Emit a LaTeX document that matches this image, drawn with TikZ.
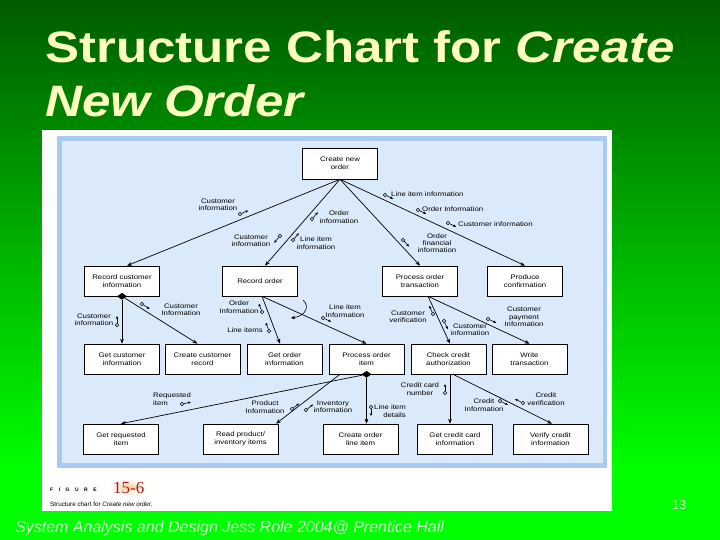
\documentclass[tikz,border=0pt]{standalone}
\usepackage{fontspec}
\setmainfont{Liberation Sans}
\newfontfamily\diagfont[FakeStretch=1.18]{Liberation Sans}
\newfontfamily\titlefont[FakeStretch=1.16]{Liberation Sans}
\newfontfamily\figserif{Liberation Serif}
\usetikzlibrary{arrows.meta,shapes.geometric,calc}
\definecolor{bgdark}{RGB}{0,92,0}
\definecolor{bgbright}{RGB}{0,255,0}
\definecolor{titlecol}{RGB}{255,255,192}
\definecolor{footcol}{RGB}{210,255,210}
\definecolor{panelborder}{RGB}{168,202,242}
\definecolor{panelfill}{RGB}{218,234,250}
\definecolor{fignum}{RGB}{165,30,30}
\newcommand{\dcouple}[2]{\draw[couplecirc] #1 circle (1.8); \draw[couplearr] #1 -- #2;}
\begin{document}
\begin{tikzpicture}[x=1pt,y=-1pt,
  box/.style={draw=black, line width=0.6pt, fill=white, minimum width=75pt, minimum height=30pt, inner sep=0pt, align=center, font=\diagfont\fontsize{6.6}{7.6}\selectfont},
  lbl/.style={inner sep=0pt, align=center, font=\diagfont\fontsize{6.6}{7.3}\selectfont},
  conn/.style={line width=0.7pt, -{Stealth[length=5pt,width=3.8pt]}},
  couplecirc/.style={line width=0.5pt, fill=panelfill},
  couplearr/.style={line width=0.6pt, shorten <=1.8pt, -{Stealth[length=3pt,width=2.6pt]}},
  sel/.style={diamond, fill=black, inner sep=0pt, minimum width=10pt, minimum height=7pt}
]
\useasboundingbox (0,0) rectangle (720,540);
% background gradient
\foreach \i in {0,...,107} {
  \pgfmathsetmacro{\p}{min(100,\i*5/470*100)}
  \fill[bgbright!\p!bgdark] (0,\i*5) rectangle (720,\i*5+5.6);
}
% title
\node[anchor=base west, inner sep=0pt, text=titlecol, font=\titlefont\bfseries\fontsize{44}{44}\selectfont] (t1) at (45,63) {Structure Chart for \textit{Create}};
\node[anchor=base west, inner sep=0pt, text=titlecol, font=\titlefont\bfseries\itshape\fontsize{44}{44}\selectfont] (t2) at (45,117) {New Order};
% panel
\fill[white] (42,130) rectangle (612,511);
\fill[panelborder] (57,136) rectangle (607,468);
\fill[panelfill] (62,141) rectangle (603,463);
% modules
\node[box, minimum height=31pt] (cno) at (340,163.5) {Create new\\order};
\node[box] (rci) at (122,281) {Record customer\\information};
\node[box] (ro) at (260,281) {Record order};
\node[box] (pot) at (420,281) {Process order\\transaction};
\node[box] (pc) at (525,281) {Produce\\confirmation};
\node[box] (gci) at (122,359) {Get customer\\information};
\node[box] (ccr) at (202.5,359) {Create customer\\record};
\node[box] (goi) at (284.5,359) {Get order\\information};
\node[box] (poi) at (366.5,359) {Process order\\item};
\node[box] (cca) at (448.5,359) {Check credit\\authorization};
\node[box] (wt) at (529.5,359) {Write\\transaction};
\node[box] (gri) at (121,439) {Get requested\\item};
\node[box] (rpi) at (240.5,439) {Read product/\\inventory items};
\node[box] (col) at (360.5,439) {Create order\\line item};
\node[box] (gcc) at (455,439) {Get credit card\\information};
\node[box] (vci) at (550.5,439) {Verify credit\\information};
% selection diamonds
\node[sel] (sel1) at (rci.south) {};
\node[sel] (sel2) at (poi.south) {};
% connectors
\draw[conn] (cno.south) -- ($(rci.north)+(5,0)$);
\draw[conn] (cno.south) -- ($(ro.north)+(5,0)$);
\draw[conn] (cno.south) -- (pot.north);
\draw[conn] (cno.south) -- (pc.north);
\draw[conn] (sel1) -- (gci.north);
\draw[conn] (sel1) -- ($(ccr.north)+(-5,0)$);
\coordinate (roB) at ($(ro.south)+(2,0)$);
\draw[conn] (roB) -- ($(goi.north)+(-4.5,0)$);
\draw[conn] (roB) -- (poi.north);
\coordinate (potB) at ($(pot.south)+(8,0)$);
\draw[conn] (potB) -- ($(cca.north)+(1.5,0)$);
\draw[conn] (potB) -- (wt.north);
\draw[conn] (sel2) -- (gri.north);
\draw[conn] ($(poi.south)+(-26.5,0)$) -- ($(rpi.north)+(35.5,0)$);
\draw[conn] (sel2) -- ($(col.north)+(6,0)$);
\draw[conn] ($(cca.south)+(1.5,0)$) -- ($(gcc.north)+(-5,0)$);
\draw[conn] ($(cca.south)+(4.5,0)$) -- ($(vci.north)+(1.5,0)$);
% iteration loop
\draw[line width=0.6pt, -{Stealth[length=4pt,width=3.5pt]}] (303,300) .. controls (310,306) and (306,316) .. (291,318);
% couples
\dcouple{(240,214)}{(248.3,210.6)}
\dcouple{(312,219)}{(317.9,212.2)}
\dcouple{(280,236)}{(274.1,242.8)}
\dcouple{(293,240)}{(298.9,233.2)}
\dcouple{(385,195)}{(393.1,198.8)}
\dcouple{(418,210)}{(426.1,213.8)}
\dcouple{(448,223)}{(456.1,226.8)}
\dcouple{(403,240)}{(409.1,246.6)}
\dcouple{(117,325)}{(117,316)}
\dcouple{(142,304)}{(149.6,308.9)}
\dcouple{(262,312)}{(258.8,303.6)}
\dcouple{(269,331)}{(265.8,322.6)}
\dcouple{(323,318)}{(331.2,321.7)}
\dcouple{(433,314)}{(429.2,305.8)}
\dcouple{(444,321)}{(447.8,329.2)}
\dcouple{(488,319)}{(496.1,322.8)}
\dcouple{(182,404)}{(190.8,402.2)}
\dcouple{(292,409)}{(299.1,403.5)}
\dcouple{(306,410)}{(313.1,404.5)}
\dcouple{(371,407)}{(371,416)}
\dcouple{(445,393)}{(445,384)}
\dcouple{(500,401)}{(508,405)}
\dcouple{(523,403)}{(515,399)}
% couple labels
\node[lbl] (l1) at (218,205) {Customer\\information};
\node[lbl] (l2) at (339,217) {Order\\information};
\node[lbl] (l3) at (251,241) {Customer\\information};
\node[lbl] (l4) at (316,243) {Line item\\information};
\node[lbl, anchor=west] (l5) at (391,194) {Line item information};
\node[lbl, anchor=west] (l6) at (422,209) {Order Information};
\node[lbl, anchor=west] (l7) at (458,224) {Customer information};
\node[lbl] (l8) at (437,243) {Order\\financial\\information};
\node[lbl] (l9) at (94,320) {Customer\\information};
\node[lbl] (l10) at (181,310) {Customer\\Information};
\node[lbl] (l11) at (239,307) {Order\\Information};
\node[lbl] (l12) at (245,330) {Line items};
\node[lbl] (l13) at (345,311) {Line item\\Information};
\node[lbl] (l14) at (408,317) {Customer\\verification};
\node[lbl] (l15) at (470,329.5) {Customer\\information};
\node[lbl] (l16) at (524,317) {Customer\\payment\\Information};
\node[lbl, align=left, anchor=west] (l17) at (153,399) {Requested\\item};
\node[lbl] (l18) at (265,407) {Product\\Information};
\node[lbl] (l19) at (333,407) {Inventory\\information};
\node[lbl, align=right, anchor=east] (l20) at (406,411) {Line item\\details};
\node[lbl] (l21) at (420,389) {Credit card\\number};
\node[lbl] (l22) at (484,405) {Credit\\Information};
\node[lbl] (l23) at (546,399) {Credit\\verification};
% caption
\node[anchor=base west, inner sep=0pt, font=\bfseries\fontsize{5}{5}\selectfont] (fig) at (50,491) {F\hspace{5.5pt}I\hspace{5.5pt}G\hspace{5.5pt}U\hspace{5.5pt}R\hspace{5.5pt}E};
\shade[inner color=orange!35, outer color=white] (128,487) ellipse (20 and 9);
\node[anchor=base west, inner sep=0pt, text=fignum, font=\figserif\fontsize{17}{17}\selectfont] (fnum) at (113,493) {15-6};
\node[anchor=base west, inner sep=0pt, font=\fontsize{6.3}{6.3}\selectfont] (cap) at (50,506) {Structure chart for \textit{Create new order.}};
% footer
\node[anchor=base west, inner sep=0pt, text=footcol, font=\itshape\fontsize{16}{16}\selectfont] (foot) at (15,532) {System Analysis and Design Jess Role 2004@ Prentice Hall};
\node[inner sep=0pt, text=footcol, font=\fontsize{13}{13}\selectfont] (pg) at (679,505) {13};
\end{tikzpicture}
\end{document}
